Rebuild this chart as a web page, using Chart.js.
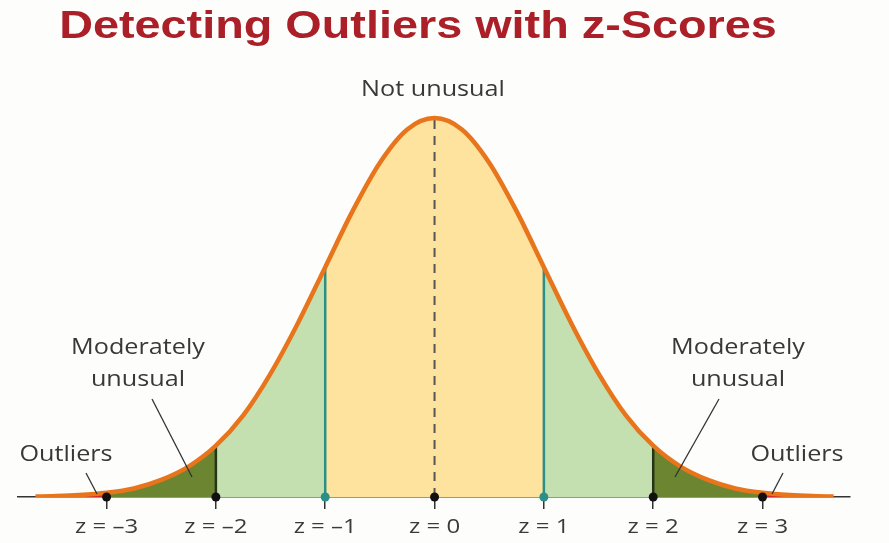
<!DOCTYPE html>
<html>
<head>
<meta charset="utf-8">
<script src="https://cdn.jsdelivr.net/npm/chart.js@4.4.1/dist/chart.umd.min.js"></script>
<style>
  html, body { margin: 0; padding: 0; background: #fdfdfb; }
  #wrap { width: 889px; height: 543px; }
</style>
</head>
<body>
<div id="wrap"><canvas id="zChart"></canvas></div>
<script>
// curve heights (relative density)
var zValues = [-3.65, -3.5, -3.25, -3, -2.75, -2.5, -2.25, -2, -1.75, -1.5, -1.25, -1, -0.75, -0.5, -0.25, 0,
               0.25, 0.5, 0.75, 1, 1.25, 1.5, 1.75, 2, 2.25, 2.5, 2.75, 3, 3.25, 3.5, 3.65];
var heights = [0.0005, 0.0009, 0.002, 0.0044, 0.009, 0.018, 0.032, 0.054, 0.086, 0.130, 0.183, 0.242, 0.301, 0.352, 0.387, 0.399,
               0.387, 0.352, 0.301, 0.242, 0.183, 0.130, 0.086, 0.054, 0.032, 0.018, 0.009, 0.0044, 0.002, 0.0009, 0.0005];
var tickValues = [-3, -2, -1, 0, 1, 2, 3];
var tickLabels = ['z = \u20133', 'z = \u20132', 'z = \u20131', 'z = 0', 'z = 1', 'z = 2', 'z = 3'];
var dotColors = ['#111', '#111', '#2a8f86', '#111', '#2a8f86', '#111', '#111'];

function heightAt(z) {
    return heights[zValues.indexOf(z)];
}
function pointsBetween(a, b) {
    var pts = [];
    zValues.forEach(function (z, i) {
        if (z >= a && z <= b) pts.push({ x: z, y: heights[i] });
    });
    return pts;
}
function region(a, b, color) {
    return {
        data: pointsBetween(a, b), backgroundColor: color, borderWidth: 0,
        pointRadius: 0, fill: 'origin', cubicInterpolationMode: 'monotone', order: 4
    };
}
function vline(z, color, width, dash) {
    return {
        data: [{ x: z, y: 0 }, { x: z, y: heightAt(z) }], borderColor: color, borderWidth: width,
        borderDash: dash || [], pointRadius: 0, fill: false, order: 2
    };
}

var textPlugin = {
    id: 'texts',
    beforeDraw: function (chart) {
        var c = chart.ctx;
        c.save();
        c.fillStyle = '#fdfdfb';
        c.fillRect(0, 0, chart.width, chart.height);
        c.restore();
    },
    afterDraw: function (chart) {
        var c = chart.ctx;
        var xs = chart.scales.x;
        function txt(s, x, y, font, color) {
            c.save();
            c.font = font;
            c.fillStyle = color;
            c.textAlign = 'center';
            c.textBaseline = 'middle';
            c.translate(x, y);
            c.scale(1.2, 1);
            c.fillText(s, 0, 0);
            c.restore();
        }
        function seg(x1, y1, x2, y2) {
            c.save();
            c.strokeStyle = '#333';
            c.lineWidth = 1.3;
            c.beginPath();
            c.moveTo(x1, y1);
            c.lineTo(x2, y2);
            c.stroke();
            c.restore();
        }
        var lab = '21px "Open Sans"';
        var grey = '#383838';
        txt('Detecting Outliers with z-Scores', 418, 27, 'bold 39px "Liberation Sans"', '#ab1f28');
        txt('Not unusual', 433, 90, lab, grey);
        txt('Moderately', 138, 348, lab, grey);
        txt('unusual', 138, 380, lab, grey);
        txt('Moderately', 738, 348, lab, grey);
        txt('unusual', 738, 380, lab, grey);
        txt('Outliers', 66, 455, lab, grey);
        txt('Outliers', 797, 455, lab, grey);
        seg(152, 399, 192, 477);
        seg(86, 473, 97, 494);
        seg(719, 399, 675, 477);
        seg(783, 473, 772, 494);
        tickValues.forEach(function (v, i) {
            txt(tickLabels[i], xs.getPixelForValue(v), 527, '20px "Open Sans"', '#3a3a3a');
        });
    }
};

var ctx = document.getElementById('zChart').getContext('2d');
var zChart = new Chart(ctx, {
    type: 'line',
    data: {
        datasets: [
            {
                data: tickValues.map(function (v) { return { x: v, y: 0 }; }),
                showLine: false, pointRadius: 4.5, pointBackgroundColor: dotColors,
                pointBorderWidth: 0, clip: false, order: 0
            },
            {
                data: pointsBetween(-4, 4), borderColor: '#e8741c', borderWidth: 4.5,
                pointRadius: 0, fill: false, cubicInterpolationMode: 'monotone', order: 1
            },
            vline(-2, '#263418', 2.5),
            vline(2, '#263418', 2.5),
            vline(-1, '#2a8f86', 2.5),
            vline(1, '#2a8f86', 2.5),
            vline(0, '#555', 2, [9, 7]),
            region(-4, -3, '#d8282a'),
            region(3, 4, '#d8282a'),
            region(-3, -2, '#6b8530'),
            region(2, 3, '#6b8530'),
            region(-2, -1, '#c5e0b0'),
            region(1, 2, '#c5e0b0'),
            region(-1, 1, '#fde39e')
        ]
    },
    options: {
        responsive: true,
        maintainAspectRatio: false,
        animation: false,
        layout: { padding: { left: 18, right: 39, top: 100, bottom: 0 } },
        plugins: { legend: { display: false }, title: { display: false }, tooltip: { enabled: false } },
        scales: {
            x: {
                type: 'linear', min: -3.81, max: 3.8,
                afterBuildTicks: function (s) { s.ticks = tickValues.map(function (v) { return { value: v }; }); },
                afterFit: function (s) { s.height = 46; },
                ticks: { display: false },
                grid: { drawOnChartArea: false, drawTicks: true, tickLength: 12, color: '#333', lineWidth: 1.5 },
                border: { display: true, color: '#333', width: 1.5 }
            },
            y: { display: false, min: 0, max: 0.418 }
        }
    },
    plugins: [textPlugin]
});
</script>
</body>
</html>
